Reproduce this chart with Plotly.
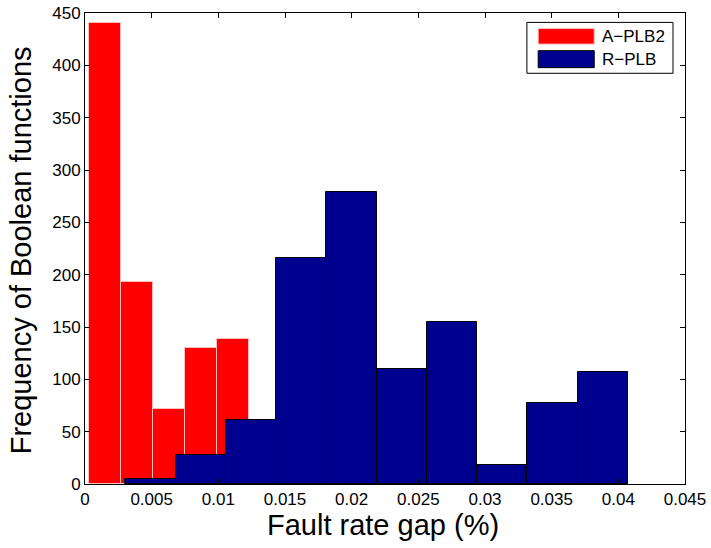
import plotly.graph_objects as go

# Bin centers (fault rate gap, %) and counts
red_centers = [0.00153, 0.00392, 0.00631, 0.00870, 0.01109]
red_counts = [440, 193, 72, 130, 139]
red_width = 0.00239

blue_centers = [0.00492, 0.00869, 0.01246, 0.01622, 0.01999,
                0.02376, 0.02752, 0.03129, 0.03506, 0.03883]
blue_counts = [5, 28, 61, 216, 279, 110, 155, 18, 77, 107]
blue_width = 0.003767

series_names = ["A\u2212PLB2", "R\u2212PLB"]
x_ticks = [0, 0.005, 0.01, 0.015, 0.02, 0.025, 0.03, 0.035, 0.04, 0.045]
x_ticklabels = ["0", "0.005", "0.01", "0.015", "0.02", "0.025", "0.03", "0.035", "0.04", "0.045"]
y_ticks = [0, 50, 100, 150, 200, 250, 300, 350, 400, 450]

FONT = "Liberation Sans, Arial, sans-serif"
RED = "#ff0000"
RED_EDGE = "rgb(255,190,190)"
BLUE = "#00008f"
BLUE_EDGE = "#000000"

fig = go.Figure()
fig.add_trace(go.Bar(
    x=red_centers, y=red_counts, width=[red_width] * len(red_centers),
    name=series_names[0], showlegend=False,
    marker=dict(color=RED, line=dict(color=RED_EDGE, width=1)),
))
fig.add_trace(go.Bar(
    x=blue_centers, y=blue_counts, width=[blue_width] * len(blue_centers),
    name=series_names[1], showlegend=False,
    marker=dict(color=BLUE, line=dict(color=BLUE_EDGE, width=1)),
))

axis_common = dict(
    showline=True, linecolor="black", linewidth=1, mirror="ticks",
    ticks="inside", ticklen=5, tickcolor="black", showgrid=False, zeroline=False,
    automargin=False,
    tickfont=dict(family=FONT, size=17, color="black"),
)

# MATLAB-style legend box with wide colour patches
shapes = [
    dict(type="rect", xref="paper", yref="paper", x0=0.7365, x1=0.980, y0=0.872, y1=0.980,
         line=dict(color="black", width=1), fillcolor="white", layer="above"),
    dict(type="rect", xref="paper", yref="paper", x0=0.7553, x1=0.8487, y0=0.934, y1=0.967,
         line=dict(color=RED_EDGE, width=1), fillcolor=RED, layer="above"),
    dict(type="rect", xref="paper", yref="paper", x0=0.7553, x1=0.8487, y0=0.884, y1=0.920,
         line=dict(color=BLUE_EDGE, width=1), fillcolor=BLUE, layer="above"),
]
annotations = [
    dict(text=series_names[0], xref="paper", yref="paper", x=0.858, y=0.9505,
         xanchor="left", yanchor="middle", showarrow=False,
         font=dict(family=FONT, size=17, color="black")),
    dict(text=series_names[1], xref="paper", yref="paper", x=0.858, y=0.902,
         xanchor="left", yanchor="middle", showarrow=False,
         font=dict(family=FONT, size=17, color="black")),
    dict(text="Fault rate gap (%)", xref="paper", yref="paper", x=0.497, y=-0.086,
         xanchor="center", yanchor="middle", showarrow=False,
         font=dict(family=FONT, size=29, color="black")),
    dict(text="Frequency of Boolean functions", xref="paper", yref="paper", x=-0.106, y=0.497,
         xanchor="center", yanchor="middle", showarrow=False, textangle=-90,
         font=dict(family=FONT, size=29, color="black")),
]

fig.update_layout(
    width=711, height=548,
    margin=dict(l=85, r=26, t=13, b=64, autoexpand=False),
    paper_bgcolor="white", plot_bgcolor="white",
    barmode="overlay",
    bargap=0,
    showlegend=False,
    shapes=shapes,
    annotations=annotations,
    xaxis=dict(range=[0, 0.045], tickmode="array", tickvals=x_ticks, ticktext=x_ticklabels,
               **axis_common),
    yaxis=dict(range=[0, 450], tickmode="array", tickvals=y_ticks, **axis_common),
)

fig.write_html("out.html", config={"displayModeBar": False},
               post_script="document.body.style.margin='0px';")
